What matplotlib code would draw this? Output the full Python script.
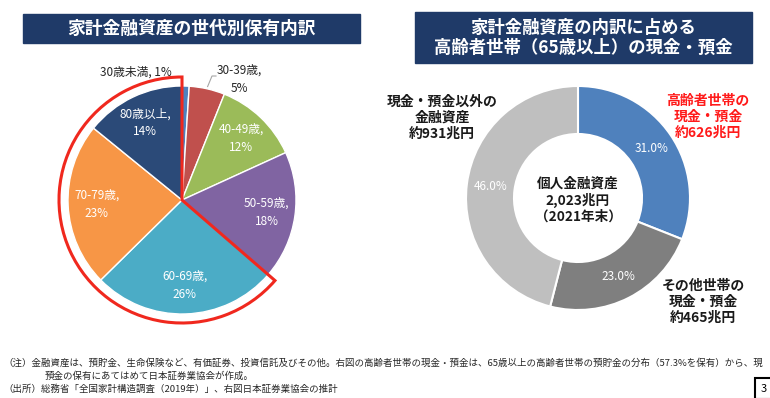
import numpy as np
import matplotlib
matplotlib.use("Agg")
from matplotlib import pyplot as plt
from matplotlib.patches import Rectangle, Wedge

plt.rcParams['font.family'] = ['Noto Sans CJK JP', 'DejaVu Sans']

# left pie : household financial assets by age of household head (%)
ages = ['30歳未満', '30-39歳', '40-49歳', '50-59歳', '60-69歳', '70-79歳', '80歳以上']
age_share = [1, 5, 12, 18, 26, 23, 14]
age_colors = ['#4f81bd', '#c0504d', '#9bbb59', '#8064a2', '#4bacc6', '#f79646', '#2b4a78']

# right donut : breakdown of personal financial assets (%)
parts = ['高齢者世帯の\n現金・預金\n約626兆円', 'その他世帯の\n現金・預金\n約465兆円',
         '現金・預金以外の\n金融資産\n約931兆円']
part_share = [31.0, 23.0, 46.0]
part_colors = ['#4f81bd', '#7f7f7f', '#bfbfbf']
total_label = '個人金融資産\n2,023兆円\n（2021年末）'

title_left = '家計金融資産の世代別保有内訳'
title_right = '家計金融資産の内訳に占める\n高齢者世帯（65歳以上）の現金・預金'
notes = ['（注）金融資産は、預貯金、生命保険など、有価証券、投資信託及びその他。右図の高齢者世帯の現金・預金は、65歳以上の高齢者世帯の預貯金の分布（57.3%を保有）から、現',
         '預金の保有にあてはめて日本証券業協会が作成。',
         '（出所）総務省「全国家計構造調査（2019年）」、右図日本証券業協会の推計']

W, H = 770, 398
def Y(y):
    return H - y

fig = plt.figure(figsize=(W / 100, H / 100), dpi=100)
ax = fig.add_axes([0, 0, 1, 1])

navy = '#1f3a68'
# title bars
ax.add_patch(Rectangle((23, Y(43)), 337, 29, color=navy))
ax.text(191, Y(28.5), title_left, color='white', fontsize=12.8, fontweight='bold', ha='center', va='center')
ax.add_patch(Rectangle((415, Y(63)), 337, 51, color=navy))
ax.text(583, Y(38), title_right, color='white', fontsize=12.5, fontweight='bold', ha='center', va='center',
        linespacing=1.15)

# ---- left pie ----
c1 = (182, Y(200))
r1 = 114
wedges, _ = ax.pie(age_share, colors=age_colors, startangle=90, counterclock=False, radius=r1, center=c1,
                   wedgeprops=dict(edgecolor='white', linewidth=1))
for i, w in enumerate(wedges):
    lab = ages[i] + ',\n' + str(age_share[i]) + '%'
    if i == 0:
        ax.text(136, Y(72), ages[i] + ', ' + str(age_share[i]) + '%', fontsize=8.5, color='#262626',
                ha='center', va='center')
        continue
    if i == 1:
        ax.text(239, Y(79), lab, fontsize=8.5, color='#262626', ha='center', va='center', linespacing=1.5)
        a = np.deg2rad((w.theta1 + w.theta2) / 2)
        ax.plot([c1[0] + r1 * 1.02 * np.cos(a), 212, 216], [c1[1] + r1 * 1.02 * np.sin(a), Y(76), Y(76)],
                color='#a6a6a6', lw=0.8)
        continue
    a = np.deg2rad((w.theta1 + w.theta2) / 2)
    ax.text(c1[0] + 0.75 * r1 * np.cos(a), c1[1] + 0.75 * r1 * np.sin(a), lab, fontsize=8.5, color='white',
            ha='center', va='center', linespacing=1.5)

# red outline round the 60+ slices
ax.add_patch(Wedge(c1, 123, wedges[6].theta1, wedges[4].theta2, fill=False, edgecolor='#f0281e', lw=2.2))

# ---- right donut ----
c2 = (578, Y(198))
r2 = 112
ax.pie(part_share, colors=part_colors, startangle=90, counterclock=False, radius=r2, center=c2,
       wedgeprops=dict(width=48, edgecolor='white', linewidth=1.5), autopct='%.1f%%', pctdistance=0.79,
       textprops=dict(color='white', fontsize=8.5))
ax.text(c2[0], c2[1] - 2, total_label, fontsize=9.8, fontweight='bold', ha='center', va='center',
        linespacing=1.2, color='#1a1a1a')
ax.text(708, Y(117), parts[0], fontsize=10, fontweight='bold', color='#ff1a1a', ha='center', va='center',
        linespacing=1.2)
ax.text(703, Y(302), parts[1], fontsize=10, fontweight='bold', color='#1a1a1a', ha='center', va='center',
        linespacing=1.2)
ax.text(442, Y(118), parts[2], fontsize=10, fontweight='bold', color='#1a1a1a', ha='center', va='center',
        linespacing=1.2)

# footnotes
ax.text(3, Y(363), notes[0], fontsize=6.8, color='#262626', va='center')
ax.text(45, Y(376), notes[1], fontsize=6.8, color='#262626', va='center')
ax.text(3, Y(389), notes[2], fontsize=6.8, color='#262626', va='center')

# page number box
ax.add_patch(Rectangle((755, Y(399)), 20, 21, fill=False, edgecolor='black', lw=1.5))
ax.text(764, Y(389), '3', fontsize=8, ha='center', va='center')

ax.set_xlim(0, W)
ax.set_ylim(0, H)
ax.axis('off')

fig.savefig('out.png', dpi=100)
